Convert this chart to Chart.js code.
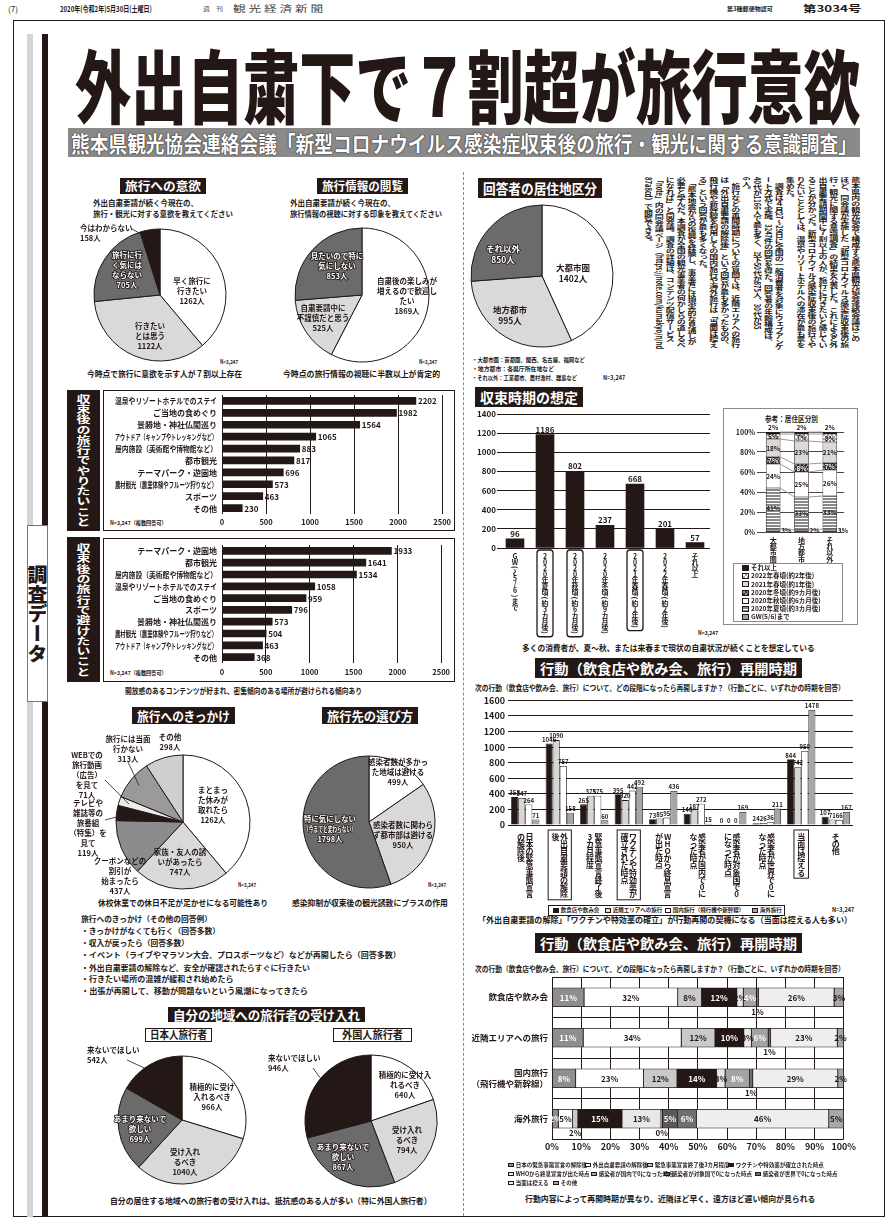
<!DOCTYPE html>
<html>
<head>
<meta charset="utf-8">
<title>外出自粛下で7割超が旅行意欲</title>
<script src="https://cdn.jsdelivr.net/npm/chart.js@4.4.1/dist/chart.umd.min.js"></script>
<style>
  html, body { margin: 0; padding: 0; background: #fff; }
  body { position: relative; width: 891px; height: 1222px; overflow: hidden;
    font-family: "Noto Sans CJK JP", "Noto Sans", sans-serif; color: #231815; }
  .a { position: absolute; white-space: nowrap; }
  .bx { position: absolute; box-sizing: border-box; }
</style>
</head>
<body>
<script>
// ---------- data ----------
// 旅行への意欲
const intentLabels = ["早く旅行に\n行きたい", "行きたい\nとは思う", "旅行に行\nく気には\nならない", "今はわからない"];
const intentValues = [1262, 1122, 705, 158];

// 旅行情報の閲覧
const infoLabels = ["自粛後の楽しみが\n増えるので歓迎し\nたい", "自粛要請中に\n不謹慎だと思う", "見たいので特に\n気にしない"];
const infoValues = [1869, 525, 853];

// 回答者の居住地区分
const areaLabels = ["大都市圏", "地方都市", "それ以外"];
const areaValues = [1402, 995, 850];

// 収束後の旅行でやりたいこと
const wantLabels = ["温泉やリゾートホテルでのステイ", "ご当地の食めぐり", "景勝地・神社仏閣巡り", "アウトドア（キャンプやトレッキングなど）", "屋内施設（美術館や博物館など）", "都市観光", "テーマパーク・遊園地", "農村観光（農業体験やフルーツ狩りなど）", "スポーツ", "その他"];
const wantValues = [2202, 1982, 1564, 1065, 883, 817, 696, 573, 463, 230];

// 収束後の旅行で避けたいこと
const avoidLabels = ["テーマパーク・遊園地", "都市観光", "屋内施設（美術館や博物館など）", "温泉やリゾートホテルでのステイ", "ご当地の食めぐり", "スポーツ", "景勝地・神社仏閣巡り", "農村観光（農業体験やフルーツ狩りなど）", "アウトドア（キャンプやトレッキングなど）", "その他"];
const avoidValues = [1933, 1641, 1534, 1058, 959, 796, 573, 504, 463, 368];

// 旅行へのきっかけ
const triggerLabels = ["まとまっ\nた休みが\n取れたら", "家族・友人の誘\nいがあったら", "クーポンなどの\n割引が\n始まったら", "テレビや\n雑誌等の\n旅番組\n（特集）を\n見て", "WEBでの\n旅行動画\n（広告）\nを見て", "旅行には当面\n行かない", "その他"];
const triggerValues = [1262, 747, 437, 119, 71, 313, 298];

// 旅行先の選び方
const choiceLabels = ["感染者数が多かっ\nた地域は避ける", "感染者数に関わら\nず都市部は避ける", "特に気にしない\n（今までと変わらない）"];
const choiceValues = [499, 950, 1798];

// 自分の地域への旅行者の受け入れ
const japanLabels = ["積極的に受け\n入れるべき", "受け入れ\nるべき", "あまり来ないで\n欲しい", "来ないでほしい"];
const japanValues = [966, 1040, 699, 542];
const foreignLabels = ["積極的に受け入\nれるべき", "受け入れ\nるべき", "あまり来ないで\n欲しい", "来ないでほしい"];
const foreignValues = [640, 794, 867, 946];

// 収束時期の想定
const endLabels = ["GW（〜5/6）まで", "2020年夏頃（約3カ月後）", "2020年秋頃（約6カ月後）", "2020年冬頃（約9カ月後）", "2021年春頃（約1年後）", "2022年春頃（約2年後）", "それ以上"];
const endValues = [96, 1186, 802, 237, 668, 201, 57];

// 参考：居住区分別（%）
const refCats = ["大都市圏", "地方都市", "それ以外"];
const refSeries = ["GW(5/6)まで", "2020年夏頃(約3カ月後)", "2020年秋頃(約6カ月後)", "2020年冬頃(約9カ月後)", "2021年春頃(約1年後)", "2022年春頃(約2年後)", "それ以上"];
const refGW = [3, 2, 3];
const refSummer = [41, 33, 33];
const refAutumn = [24, 25, 26];
const refWinter = [7, 8, 7];
const refSpring21 = [18, 23, 21];
const refSpring22 = [5, 7, 8];
const refLater = [2, 2, 2];

// 行動（飲食店や飲み会、旅行）再開時期
const timingLabels = ["日本の緊急事態宣言\nの解除後", "外出自粛要請の解除\n後", "緊急事態宣言終了後\n3カ月程度", "ワクチンや特効薬が\n確立された時点", "WHOから終息宣言\nが出た時点", "感染者が国内で0に\nなった時点", "感染者が対象国で0\nになった時点", "感染者が世界で0に\nなった時点", "当面は控える", "その他"];
const behaviorLabels = ["飲食店や飲み会", "近隣エリアへの旅行", "国内旅行（飛行機や新幹線）", "海外旅行"];
const dining = [358, 1046, 265, 395, 73, 146, 0, 24, 844, 107];
const nearby = [347, 1090, 375, 320, 85, 187, 0, 26, 742, 71];
const domestic = [264, 757, 375, 442, 95, 272, 0, 36, 950, 66];
const overseas = [71, 158, 60, 492, 436, 15, 169, 211, 1478, 167];
// 帯グラフのラベル（%）
const diningPct = [11, 32, 8, 12, 2, 4, 0, 1, 26, 3];
const nearbyPct = [11, 34, 12, 10, 3, 6, 0, 1, 23, 2];
const domesticPct = [8, 23, 12, 14, 3, 8, 0, 1, 29, 2];
const overseasPct = [2, 5, 2, 15, 13, 0, 5, 6, 46, 5];

// ---------- helpers ----------
const INK = "#231815";
const FONT = '"Noto Sans CJK JP", "Noto Sans", sans-serif';
Chart.defaults.font.family = FONT;
Chart.defaults.color = INK;
Chart.defaults.animation = false;
Chart.defaults.events = [];
Chart.defaults.responsive = true;
Chart.defaults.maintainAspectRatio = false;
Chart.defaults.plugins.legend.display = false;
Chart.defaults.plugins.tooltip.enabled = false;
const plain = v => "" + v;

const fits = [];
function put(x, y, w, size, text, o = {}) {
  const d = document.createElement("div");
  d.className = "a";
  d.style.left = x + "px";
  d.style.top = (y - size * 0.6) + "px";
  d.style.fontSize = size + "px";
  d.style.lineHeight = (size * 1.2) + "px";
  d.style.fontWeight = o.weight || 700;
  d.style.color = o.color || INK;
  if (o.css) d.style.cssText += o.css;
  d.textContent = text;
  document.body.appendChild(d);
  if (w) fits.push(() => {
    d.style.transformOrigin = "0 50%";
    d.style.transform = `scaleX(${w / d.offsetWidth})`;
  });
  return d;
}
function vput(cx, y, h, size, html, o = {}) {
  const d = document.createElement("div");
  d.className = "a";
  d.style.cssText += `top:${y}px;font-size:${size}px;line-height:${o.lh || size * 1.15}px;writing-mode:vertical-rl;font-weight:${o.weight || 700};color:${o.color || INK};`;
  d.innerHTML = html;
  document.body.appendChild(d);
  fits.push(() => {
    d.style.left = (cx - d.offsetWidth / 2) + "px";
    d.style.transformOrigin = "50% 0";
    d.style.transform = `scaleY(${h / d.offsetHeight})`;
  });
  return d;
}
function rect(x, y, w, h, css) {
  const d = document.createElement("div");
  d.className = "bx";
  d.style.cssText += `left:${x}px;top:${y}px;width:${w}px;height:${h}px;${css}`;
  document.body.appendChild(d);
  return d;
}
function tag(x, y, w, h, text, size) {
  rect(x, y, w, h, `background:${INK};`);
  put(x + 5, y + h / 2, w - 10, size, text, { color: "#fff" });
}
function canvasAt(x, y, w, h) {
  const d = rect(x, y, w, h, "");
  const c = document.createElement("canvas");
  d.appendChild(c);
  return c;
}
function legendItem(x, y, bg, text, size) {
  const d = document.createElement("div");
  d.className = "a";
  d.style.cssText += `left:${x}px;top:${y - size * 0.6}px;font-size:${size}px;line-height:${size * 1.2}px;font-weight:700;display:flex;align-items:center;`;
  const s = document.createElement("span");
  s.style.cssText = `display:inline-block;width:${size * 1.1}px;height:${size * 0.9}px;border:0.8px solid ${INK};background:${bg};margin-right:${size * 0.3}px;box-sizing:border-box;`;
  d.appendChild(s);
  d.appendChild(document.createTextNode(text));
  document.body.appendChild(d);
}

// vertical text on canvas, one glyph under another
const ROT = { "（": "(", "）": ")", "(": "(", ")": ")", "〜": "〜", "ー": "ー" };
function vtext(ctx, s, x, y, step) {
  let cy = y;
  for (const ch of s) {
    if (ROT[ch]) {
      const st = (ch === "ー" || ch === "〜") ? step : step * 0.7;
      ctx.save();
      ctx.translate(x, cy + st / 2);
      ctx.rotate(Math.PI / 2);
      ctx.fillText(ROT[ch], 0, 0);
      ctx.restore();
      cy += st;
    } else {
      ctx.fillText(ch, x, cy + step / 2);
      cy += step;
    }
  }
  return cy;
}

// ---------- page frame ----------
rect(13, 20, 872, 1197, `border:1px solid ${INK};`);
rect(27, 34, 6, 1183, "background:#d4d4d4;");
rect(42, 34, 6, 1183, `background:${INK};`);
rect(27, 525, 21, 177, "background:#fff;border:1px solid #777;");
vput(37.5, 565, 98, 20, "調査データ", { weight: 900 });
rect(463, 172, 0, 1044, "border-left:1px dashed #8a8a8a;");

// header
put(8, 9, 0, 8, "(7)", { weight: 400 });
put(60, 9, 92, 8, "2020年(令和2年)5月30日(土曜日)");
put(203, 9, 20, 6, "週　刊", { weight: 400, color: "#555" });
put(233, 9, 90, 9, "観 光 経 済 新 聞", { weight: 400, color: "#444" });
put(727, 9, 46, 5.5, "第3種郵便物認可");
put(803, 9, 58, 9, "第3034号");

// title
put(75, 82, 785, 80, "外出自粛下で７割超が旅行意欲", { weight: 900 });
rect(68, 128, 792, 29, "background:#8a8a8a;");
put(71, 142.5, 786, 22, "熊本県観光協会連絡会議「新型コロナウイルス感染症収束後の旅行・観光に関する意識調査」",
  { color: "#fff", css: "text-shadow:0 0 1.5px #231815,0 0 1px #231815;" });

// ---------- left column texts ----------
tag(120, 178, 86, 16, "旅行への意欲", 12);
put(93, 202, 0, 7.5, "外出自粛要請が続く今現在の、");
put(93, 213, 140, 7.5, "旅行・観光に対する意欲を教えてください");
tag(317, 178, 91, 16, "旅行情報の閲覧", 12);
put(290, 202, 0, 7.5, "外出自粛要請が続く今現在の、");
put(290, 213, 152, 7.5, "旅行情報の視聴に対する印象を教えてください");
put(220, 362, 18, 5.5, "N=3,247");
put(419, 362, 18, 5.5, "N=3,247");
put(87, 373, 155, 8.5, "今時点で旅行に意欲を示す人が７割以上存在");
put(283, 373, 157, 8.5, "今時点の旅行情報の視聴に半数以上が肯定的");

rect(67, 390, 33, 141, `background:${INK};`);
vput(83.5, 394, 133, 14, "収束後の旅行でやりたいこと", { color: "#fff" });
rect(103, 390, 352, 141, `border:1px solid ${INK};`);
put(110, 523, 57, 5.5, "N=3,247（複数回答可）");
rect(67, 537, 33, 145, `background:${INK};`);
vput(83.5, 543, 134, 14, "収束後の旅行で避けたいこと", { color: "#fff" });
rect(103, 538, 352, 144, `border:1px solid ${INK};`);
put(110, 673, 57, 5.5, "N=3,247（複数回答可）");
put(125, 691, 237, 8, "開放感のあるコンテンツが好まれ、密集傾向のある場所が避けられる傾向あり");

tag(132, 707, 103, 17, "旅行へのきっかけ", 13);
tag(322, 707, 96, 17, "旅行先の選び方", 13);
put(238, 885, 18, 5.5, "N=3,247");
put(428, 885, 18, 5.5, "N=3,247");
put(98, 902, 170, 8.5, "休校休業での休日不足が足かせになる可能性あり");
put(292, 902, 156, 8.5, "感染抑制が収束後の観光誘致にプラスの作用");

put(81, 918, 131, 7.5, "旅行へのきっかけ（その他の回答例）");
put(81, 930, 139, 7.5, "・きっかけがなくても行く（回答多数）");
put(81, 942, 108, 7.5, "・収入が戻ったら（回答多数）");
put(81, 954, 320, 7.5, "・イベント（ライブやマラソン大会、プロスポーツなど）などが再開したら（回答多数）");
put(81, 967, 229, 7.5, "・外出自粛要請の解除など、安全が確認されたらすぐに行きたい");
put(81, 978, 153, 7.5, "・行きたい場所の混雑が緩和され始めたら");
put(81, 990, 227, 7.5, "・出張が再開して、移動が問題ないという風潮になってきたら");

tag(168, 1007, 197, 15, "自分の地域への旅行者の受け入れ", 13);
rect(145, 1028, 67, 14, `border:1px solid ${INK};background:#fff;`);
put(150, 1035, 57, 11, "日本人旅行者");
rect(333, 1028, 79, 14, `border:1px solid ${INK};background:#fff;`);
put(342, 1035, 61, 11, "外国人旅行者");
put(110, 1200, 322, 8.5, "自分の居住する地域への旅行者の受け入れは、抵抗感のある人が多い（特に外国人旅行者）");

// ---------- right column texts ----------
tag(478, 178, 124, 20, "回答者の居住地区分", 14);
put(472, 360, 113, 6, "・大都市圏：首都圏、関西、名古屋、福岡など");
put(472, 369, 82, 6, "・地方都市：各県庁所在地など");
put(472, 378, 105, 6, "・それ以外：工業都市、農村漁村、離島など");
put(603, 378, 22, 6, "N=3,247");

const article = [
  "熊本県内の観光協会で構成する熊本県観光協会連絡会議はこの",
  "ほど、同会議が実施した「新型コロナウイルス感染症収束後の旅",
  "行・観光に関する意識調査」の結果を公表した。これによると外",
  "出自粛要請期間中に７割以上の人が、旅行に行きたいと感じてい",
  "ることが分かった。新型コロナウイルス感染症収束後の旅行でや",
  "りたいこととしては、温泉やリゾートホテルへの滞在が最も票を",
  "集めた。",
  "　調査は４月27〜29日に全国の一般消費者を対象にウェブアンケ",
  "ート方式で実施。3247件の回答を得た。回答者の年齢構成は、",
  "40代が1166人で最も多く、以下50代が875人、30代が55",
  "6人。",
  "　旅行などの再開時期についての質問では、近隣エリアへの旅行",
  "は「外出自粛要請の解除後」という回答が最も多かったものの、",
  "飛行機や新幹線を利用しての国内旅行や海外旅行は「当面は控え",
  "る」という回答が最も多くなった。",
  "　「熊本地震からの復興を経験し、事業者には現実的な見通しが",
  "必要と学んだ。本調査が全国の観光事業者の何かしらの道しるべ",
  "になれば」と同会議。調査の詳細は、コンテンツ配信サービス",
  "「note」内の同会議ページ（https://note.com/kumakyo/n/nd",
  "87a8cd）で閲覧できる。"
];
vput(751, 177, 173, 9, article.join("<br>"), { weight: 700, lh: 10.9 });

tag(475, 387, 108, 20, "収束時期の想定", 14);
rect(723, 408, 135, 217, "border:1px solid #8a8a8a;");
put(765, 418, 53, 7.5, "参考：居住区分別");
put(698, 633, 20, 5.5, "N=3,247");
put(522, 647, 293, 8.5, "多くの消費者が、夏〜秋、または来春まで現状の自粛状況が続くことを想定している");

tag(535, 658, 267, 20, "行動（飲食店や飲み会、旅行）再開時期", 14);
put(475, 687, 370, 7.5, "次の行動（飲食店や飲み会、旅行）について、どの段階になったら再開しますか？（行動ごとに、いずれかの時期を回答）");
put(832, 910, 22, 6, "N=3,247");
put(478, 919, 374, 8.5, "「外出自粛要請の解除」「ワクチンや特効薬の確立」が行動再開の契機になる（当面は控える人も多い）");
tag(535, 933, 267, 20, "行動（飲食店や飲み会、旅行）再開時期", 14);
put(475, 968, 370, 7.5, "次の行動（飲食店や飲み会、旅行）について、どの段階になったら再開しますか？（行動ごとに、いずれかの時期を回答）");
put(525, 1198, 290, 8.5, "行動内容によって再開時期が異なり、近隣ほど早く、遠方ほど遅い傾向が見られる");

// ---------- pies ----------
const pieText = {
  id: "pieText",
  afterDatasetsDraw(chart, args, o) {
    const ctx = chart.ctx;
    const arcs = chart.getDatasetMeta(0).data;
    const vals = chart.data.datasets[0].data;
    ctx.save();
    ctx.font = `700 ${o.size}px ${FONT}`;
    ctx.textBaseline = "middle";
    arcs.forEach((a, i) => {
      const p = o.place[i];
      const lines = (chart.data.labels[i] + "\n" + vals[i] + "人").split("\n");
      const cx = a.x + p[0], cy = a.y + p[1];
      if (p[3]) {
        const mid = (a.startAngle + a.endAngle) / 2;
        ctx.beginPath();
        ctx.strokeStyle = INK;
        ctx.lineWidth = 0.8;
        ctx.moveTo(a.x + p[3][0], a.y + p[3][1]);
        ctx.lineTo(a.x + Math.cos(mid) * a.outerRadius * 0.85, a.y + Math.sin(mid) * a.outerRadius * 0.85);
        ctx.stroke();
      }
      ctx.textAlign = p[2] || "center";
      const lh = o.size * 1.32;
      lines.forEach((t, k) => {
        const y = cy + (k - (lines.length - 1) / 2) * lh;
        if (o.light.includes(i)) {
          ctx.lineWidth = 1.6;
          ctx.strokeStyle = INK;
          ctx.strokeText(t, cx, y, p[4]);
          ctx.fillStyle = "#fff";
        } else {
          ctx.fillStyle = INK;
        }
        ctx.fillText(t, cx, y, p[4]);
      });
    });
    ctx.restore();
  }
};

function pieChart(box, r, labels, values, colors, place, light, size) {
  new Chart(canvasAt(...box), {
    type: "pie",
    data: { labels, datasets: [{ data: values, backgroundColor: colors, borderColor: INK, borderWidth: 1, hoverOffset: 0 }] },
    options: { radius: r, plugins: { pieText: { place, light, size } } },
    plugins: [pieText]
  });
}

const G1 = "#d9d9d9", G2 = "#6b6b6b";
pieChart([62, 200, 196, 190], 66, intentLabels, intentValues, ["#fff", G1, G2, INK],
  [[32, -4], [-10, 41], [-33, -25], [-80, -62, "left", [-28, -66]]], [2], 7.5);
pieChart([264, 200, 196, 190], 67, infoLabels, infoValues, ["#fff", G1, G2],
  [[45, 1, "center", null, 60], [-39, 23], [-25, -29]], [2], 7.5);
pieChart([466, 196, 152, 160], 71, areaLabels, areaValues, ["#fff", G1, G2],
  [[31, -3], [-32, 39], [-39, -22]], [2], 8.5);
pieChart([65, 730, 236, 184], 67, triggerLabels, triggerValues, ["#fff", G1, "#8c8c8c", INK, "#ececec", "#9a9a9a", "#cfcfcf"],
  [[30, -17], [-3, 40], [-63, 54], [-95, 6, "center", [-78, -2]], [-96, -47, "center", [-78, -42]], [-55, -73, "center", [-55, -60]], [-13, -80]], [], 7.5);
pieChart([290, 730, 158, 184], 66, choiceLabels, choiceValues, ["#fff", G1, G2],
  [[29, -50], [34, 13, "center", null, 62], [-39, 7, "center", null, 52]], [2], 7.5);
pieChart([70, 1040, 224, 160], 64, japanLabels, japanValues, ["#fff", G1, G2, INK],
  [[30, -23], [3, 42], [-42, 9], [-95, -65, "left", [-55, -60]]], [2], 7.5);
pieChart([260, 1041, 222, 160], 66, foreignLabels, foreignValues, ["#fff", G1, G2, INK],
  [[34, -36], [36, 19], [-28, 36], [-103, -58, "left", [-58, -53]]], [2], 7.5);

// ---------- horizontal bar charts ----------
const hbarText = {
  id: "hbarText",
  afterDatasetsDraw(chart) {
    const ctx = chart.ctx, ca = chart.chartArea;
    const vals = chart.data.datasets[0].data;
    ctx.save();
    ctx.fillStyle = INK;
    ctx.textBaseline = "middle";
    ctx.font = `700 8px ${FONT}`;
    chart.getDatasetMeta(0).data.forEach((b, i) => {
      ctx.textAlign = "left";
      ctx.fillText(vals[i], b.x + 2, b.y + 0.5);
      ctx.textAlign = "right";
      ctx.fillText(chart.data.labels[i], ca.left - 5, b.y + 0.5, 102);
    });
    ctx.restore();
  }
};
function hbarChart(box, labels, values, padTop, axisH, tickPad) {
  new Chart(canvasAt(...box), {
    type: "bar",
    data: { labels, datasets: [{ data: values, backgroundColor: INK, barThickness: 7 }] },
    options: {
      indexAxis: "y",
      layout: { padding: { left: 119, right: 11, top: padTop, bottom: 0 } },
      scales: {
        x: { min: 0, max: 2500,
             ticks: { stepSize: 500, padding: tickPad, font: { size: 7.5, weight: 700 }, callback: plain, maxRotation: 0, autoSkip: false },
             grid: { color: INK, lineWidth: 1, drawTicks: false }, border: { display: false },
             afterFit: s => { s.height = axisH; } },
        y: { display: false }
      }
    },
    plugins: [hbarText]
  });
}
hbarChart([103, 388, 352, 143], wantLabels, wantValues, 7, 17, 4);
hbarChart([103, 538, 352, 144], avoidLabels, avoidValues, 7, 19, 5);

// ---------- 収束時期の想定 ----------
const endBoxed = [false, true, true, false, true, false, false];
const endText = {
  id: "endText",
  afterDatasetsDraw(chart) {
    const ctx = chart.ctx, ca = chart.chartArea;
    const vals = chart.data.datasets[0].data;
    ctx.save();
    ctx.fillStyle = INK;
    ctx.strokeStyle = INK;
    ctx.textAlign = "center";
    ctx.textBaseline = "middle";
    chart.getDatasetMeta(0).data.forEach((b, i) => {
      ctx.font = `700 8px ${FONT}`;
      ctx.fillText(vals[i], b.x, b.y - 5);
      ctx.font = `700 7px ${FONT}`;
      const top = ca.bottom + 5;
      const end = vtext(ctx, chart.data.labels[i], b.x, top, 6.1);
      if (endBoxed[i]) {
        ctx.lineWidth = 1.3;
        ctx.beginPath();
        ctx.roundRect(b.x - 8, top - 3, 16, end - top + 5, 3);
        ctx.stroke();
      }
    });
    ctx.restore();
  }
};
new Chart(canvasAt(470, 405, 245, 235), {
  type: "bar",
  data: { labels: endLabels, datasets: [{ data: endValues, backgroundColor: INK, barThickness: 18 }] },
  options: {
    layout: { padding: { left: 0, right: 5, top: 9, bottom: 92 } },
    scales: {
      x: { display: false },
      y: { min: 0, max: 1400, ticks: { stepSize: 200, padding: 1, font: { size: 8, weight: 700 }, callback: plain },
           grid: { color: INK, lineWidth: 1, tickLength: 3 }, border: { display: false },
           afterFit: s => { s.width = 30; } }
    }
  },
  plugins: [endText]
});

// ---------- 参考：居住区分別 ----------
function pattern(w, h, draw) {
  const c = document.createElement("canvas");
  c.width = w; c.height = h;
  const g = c.getContext("2d");
  draw(g);
  return g.createPattern(c, "repeat");
}
const stripe = pattern(3, 3, g => { g.fillStyle = "#fff"; g.fillRect(0, 0, 3, 3); g.fillStyle = "#8a8a8a"; g.fillRect(0, 0, 3, 2); });
const checkDark = pattern(4, 4, g => { g.fillStyle = "#9a9a9a"; g.fillRect(0, 0, 4, 4); g.fillStyle = "#3a3a3a"; g.fillRect(0, 0, 2, 2); g.fillRect(2, 2, 2, 2); });
const checkLight = pattern(4, 4, g => { g.fillStyle = "#fff"; g.fillRect(0, 0, 4, 4); g.fillStyle = "#aaa"; g.fillRect(0, 0, 2, 2); g.fillRect(2, 2, 2, 2); });
const refFill = ["#9e9e9e", stripe, "#ffffff", checkDark, "#d9d9d9", checkLight, INK];
const refCss = ["#9e9e9e", "repeating-linear-gradient(#8a8a8a 0 2px,#fff 2px 3px)", "#fff",
  "repeating-conic-gradient(#3a3a3a 0 25%,#9a9a9a 0 50%) 0 0/4px 4px", "#d9d9d9",
  "repeating-conic-gradient(#aaa 0 25%,#fff 0 50%) 0 0/4px 4px", INK];
const refData = [refGW, refSummer, refAutumn, refWinter, refSpring21, refSpring22, refLater];

const refText = {
  id: "refText",
  afterDatasetsDraw(chart) {
    const ctx = chart.ctx, ca = chart.chartArea, n = chart.data.datasets.length;
    ctx.save();
    ctx.strokeStyle = "#9a9a9a";
    ctx.lineWidth = 1;
    for (let d = 0; d < n; d++) {
      const els = chart.getDatasetMeta(d).data;
      for (let j = 0; j + 1 < els.length; j++) {
        ctx.beginPath();
        ctx.moveTo(els[j].x + els[j].width / 2, els[j].y);
        ctx.lineTo(els[j + 1].x - els[j + 1].width / 2, els[j + 1].y);
        ctx.stroke();
      }
    }
    ctx.font = `700 6.5px ${FONT}`;
    ctx.textBaseline = "middle";
    for (let d = 0; d < n; d++) {
      const ds = chart.data.datasets[d];
      chart.getDatasetMeta(d).data.forEach((e, j) => {
        const t = ds.data[j] + "%";
        const mid = (e.y + e.base) / 2;
        ctx.fillStyle = INK;
        if (d === 0) {
          ctx.textAlign = "left";
          ctx.fillText(t, e.x + e.width / 2 + 1, mid);
        } else if (d === n - 1) {
          ctx.textAlign = "center";
          ctx.fillText(t, e.x, e.y - 4);
        } else {
          ctx.textAlign = "center";
          if (d === 3) {
            ctx.lineWidth = 1.5; ctx.strokeStyle = INK; ctx.strokeText(t, e.x, mid + 0.5);
            ctx.fillStyle = "#fff";
          }
          ctx.fillText(t, e.x, mid + 0.5);
        }
      });
    }
    ctx.font = `700 7px ${FONT}`;
    ctx.textAlign = "center";
    ctx.fillStyle = INK;
    chart.getDatasetMeta(0).data.forEach((e, j) => vtext(ctx, chart.data.labels[j], e.x, ca.bottom + 5, 6.3));
    ctx.restore();
  }
};
new Chart(canvasAt(725, 420, 130, 144), {
  type: "bar",
  data: {
    labels: refCats,
    datasets: refData.map((d, k) => ({ label: refSeries[k], data: d, backgroundColor: refFill[k],
      borderColor: INK, borderWidth: 0.6, borderSkipped: false, barThickness: 14 }))
  },
  options: {
    layout: { padding: { left: 0, right: 11, top: 12, bottom: 32 } },
    scales: {
      x: { display: false, stacked: true },
      y: { stacked: true, min: 0, max: 100,
           ticks: { stepSize: 10, padding: 2, font: { size: 7, weight: 700 }, callback: v => v + "%" },
           grid: { color: INK, lineWidth: 0.8, tickLength: 2 }, border: { display: false },
           afterFit: s => { s.width = 34; } }
    }
  },
  plugins: [refText]
});
rect(733, 563, 110, 59, "border:1px solid #8a8a8a;background:#fff;");
for (let k = 6; k >= 0; k--) legendItem(742, 568 + (6 - k) * 8.2, refCss[k], refSeries[k], 6.5);

// ---------- 行動 再開時期（棒） ----------
const groupBoxed = [false, true, false, true, false, false, false, false, true, false];
const behaviorRows = [dining, nearby, domestic, overseas];
const behaviorFill = [INK, "#d6d6d6", "#ffffff", "#a6a6a6"];
const groupText = {
  id: "groupText",
  afterDatasetsDraw(chart) {
    const ctx = chart.ctx, ca = chart.chartArea;
    ctx.save();
    ctx.fillStyle = INK;
    ctx.strokeStyle = INK;
    ctx.textAlign = "center";
    ctx.textBaseline = "middle";
    ctx.font = `600 6px ${FONT}`;
    chart.data.datasets.forEach((ds, d) => {
      chart.getDatasetMeta(d).data.forEach((e, i) => ctx.fillText(ds.data[i], e.x, e.y - 4));
    });
    ctx.font = `700 8px ${FONT}`;
    const xs = chart.scales.x, sp = 8.6, top = ca.bottom + 8;
    chart.data.labels.forEach((lab, i) => {
      const cx = xs.getPixelForValue(i);
      const cols = lab.split("\n");
      let end = top;
      cols.forEach((c, k) => {
        end = Math.max(end, vtext(ctx, c, cx + ((cols.length - 1) / 2 - k) * sp, top, 7.2));
      });
      if (groupBoxed[i]) {
        ctx.lineWidth = 1;
        ctx.strokeRect(cx - cols.length * sp / 2 - 3, top - 3, cols.length * sp + 6, end - top + 5);
      }
    });
    ctx.restore();
  }
};
new Chart(canvasAt(470, 692, 388, 210), {
  type: "bar",
  data: {
    labels: timingLabels,
    datasets: behaviorRows.map((r, k) => ({ label: behaviorLabels[k], data: r, backgroundColor: behaviorFill[k],
      borderColor: INK, borderWidth: 0.8, categoryPercentage: 0.82, barPercentage: 1 }))
  },
  options: {
    layout: { padding: { left: 0, right: 5, top: 7, bottom: 77 } },
    scales: {
      x: { display: false },
      y: { min: 0, max: 1600, ticks: { stepSize: 200, padding: 3, font: { size: 9, weight: 700 }, callback: plain },
           grid: { color: INK, lineWidth: 1, drawTicks: false }, border: { display: false },
           afterFit: s => { s.width = 38; } }
    }
  },
  plugins: [groupText]
});
rect(548, 905, 237, 11, `border:1px solid ${INK};background:#fff;`);
[553, 605, 665, 752].forEach((x, k) => legendItem(x, 910.5, behaviorFill[k], behaviorLabels[k], 5.5));

// ---------- 行動 再開時期（帯） ----------
const pctRows = [diningPct, nearbyPct, domesticPct, overseasPct];
const rowTotals = behaviorRows.map(r => r.reduce((a, b) => a + b, 0));
const segFill = ["#8e8e8e", "#ffffff", "#c9c9c9", INK, "#e8e8e8", "#a3a3a3", "#5a5a5a", "#6f6f6f", "#eeeeee", "#a8a8a8"];
const segInk = ["#fff", INK, INK, "#fff", INK, "#fff", "#fff", "#fff", INK, INK];
const stackText = {
  id: "stackText",
  afterDatasetsDraw(chart) {
    const ctx = chart.ctx, ca = chart.chartArea, ys = chart.scales.y;
    ctx.save();
    ctx.textBaseline = "middle";
    ctx.fillStyle = INK;
    ctx.font = `700 8.5px ${FONT}`;
    ctx.textAlign = "right";
    chart.data.labels.forEach((lab, j) => {
      const y = ys.getPixelForValue(j);
      const lines = lab.split("\n");
      lines.forEach((t, k) => ctx.fillText(t, ca.left - 4, y + (k - (lines.length - 1) / 2) * 11));
    });
    ctx.font = `700 8px ${FONT}`;
    ctx.textAlign = "center";
    chart.data.datasets.forEach((ds, d) => {
      chart.getDatasetMeta(d).data.forEach((e, j) => {
        if (!behaviorRows[j][d]) return;
        const t = pctRows[j][d] + "%";
        const cx = (e.x + e.base) / 2;
        if (ds.data[j] < 1.9) {
          ctx.fillStyle = INK;
          ctx.fillText(t, cx, e.y + e.height / 2 + 5);
        } else {
          ctx.fillStyle = segInk[d];
          ctx.fillText(t, cx, e.y + 0.5);
        }
      });
    });
    ctx.restore();
  }
};
new Chart(canvasAt(470, 975, 388, 180), {
  type: "bar",
  data: {
    labels: behaviorLabels.map(l => l.replace("（", "\n（")),
    datasets: timingLabels.map((lab, k) => ({
      label: lab.replace("\n", ""),
      data: behaviorRows.map((r, j) => r[k] / rowTotals[j] * 100),
      backgroundColor: segFill[k], borderColor: INK, borderWidth: 0.8, borderSkipped: false, barThickness: 19
    }))
  },
  options: {
    indexAxis: "y",
    layout: { padding: { left: 82, right: 10, top: 2, bottom: 0 } },
    scales: {
      x: { stacked: true, min: 0, max: 100,
           ticks: { stepSize: 10, padding: 2, font: { size: 9, weight: 700 }, callback: v => v + "%", maxRotation: 0, minRotation: 0, autoSkip: false },
           grid: { color: INK, lineWidth: 1, drawTicks: false }, border: { display: false },
           afterFit: s => { s.height = 16; } },
      y: { stacked: true, ticks: { display: false }, grid: { color: INK, lineWidth: 1, drawTicks: false, offset: true },
           border: { display: false }, afterFit: s => { s.width = 0; } }
    }
  },
  plugins: [stackText]
});
const legX = [[508, 585, 647, 728], [508, 591, 664, 755], [508, 553]];
let li = 0;
legX.forEach((row, r) => row.forEach(x => {
  legendItem(x, 1165 + r * 9, segFill[li], timingLabels[li].replace("\n", ""), 5.5);
  li++;
}));

fits.forEach(f => f());
document.fonts.ready.then(() => fits.forEach(f => f()));
</script>
</body>
</html>
